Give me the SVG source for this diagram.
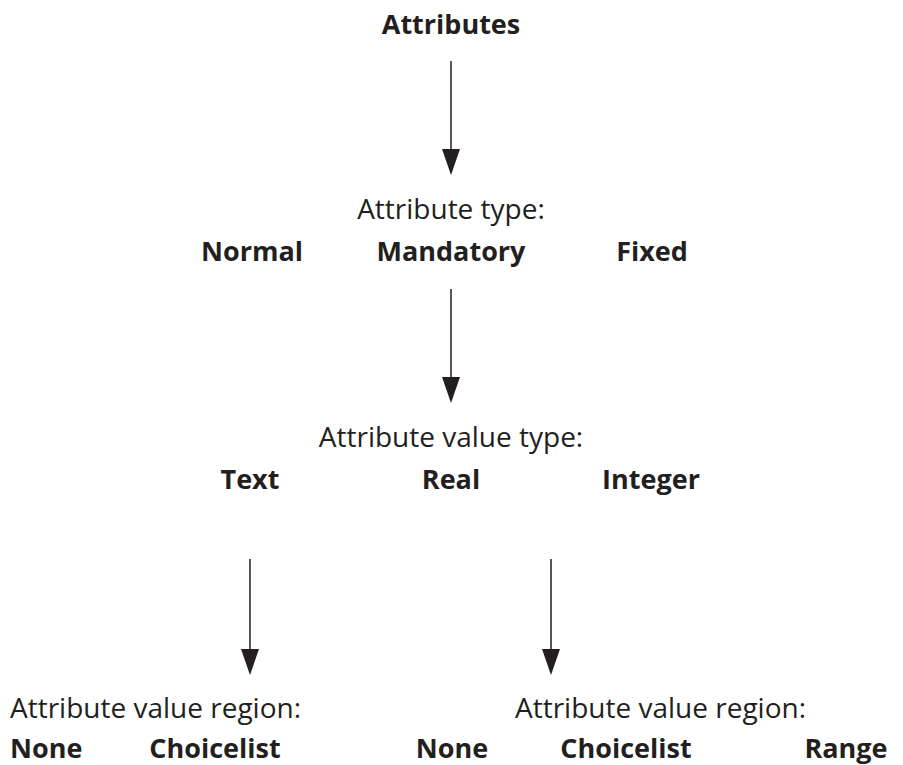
<svg xmlns="http://www.w3.org/2000/svg" width="903" height="765" viewBox="0 0 903 765">
<defs>
<style>
text{font-family:"Open Sans","Noto Sans","DejaVu Sans",sans-serif;font-size:28px;fill:#231f20}
.b{font-weight:bold;font-size:27px}
.c{text-anchor:middle}
.ln{stroke:#231f20;stroke-width:1.5;fill:none}
.hd{fill:#231f20;stroke:none}
</style>
</defs>
<rect width="903" height="765" fill="#ffffff"/>
<g id="connectors">
<line class="ln" x1="451" y1="61" x2="451" y2="152"/>
<polygon class="hd" points="442,149 460,149 451,175"/>
<line class="ln" x1="451" y1="289" x2="451" y2="380"/>
<polygon class="hd" points="442,377 460,377 451,403"/>
<line class="ln" x1="250" y1="559" x2="250" y2="652"/>
<polygon class="hd" points="241,649 259,649 250,675"/>
<line class="ln" x1="551" y1="559" x2="551" y2="652"/>
<polygon class="hd" points="542,649 560,649 551,675"/>
</g>
<g id="attributes"><text class="b c" x="451" y="34">Attributes</text></g>
<g id="attribute-type">
<text class="c" x="451" y="219">Attribute type:</text>
<text class="b c" x="252" y="261">Normal</text>
<text class="b c" x="451" y="261">Mandatory</text>
<text class="b c" x="652" y="261">Fixed</text>
</g>
<g id="attribute-value-type">
<text class="c" x="451" y="447">Attribute value type:</text>
<text class="b c" x="250" y="489">Text</text>
<text class="b c" x="451" y="489">Real</text>
<text class="b c" x="651" y="489">Integer</text>
</g>
<g id="region-left">
<text x="10" y="718">Attribute value region:</text>
<text class="b" x="10" y="758">None</text>
<text class="b c" x="215" y="758">Choicelist</text>
</g>
<g id="region-right">
<text x="515" y="718">Attribute value region:</text>
<text class="b c" x="452" y="758">None</text>
<text class="b c" x="626" y="758">Choicelist</text>
<text class="b c" x="846" y="758">Range</text>
</g>
</svg>
